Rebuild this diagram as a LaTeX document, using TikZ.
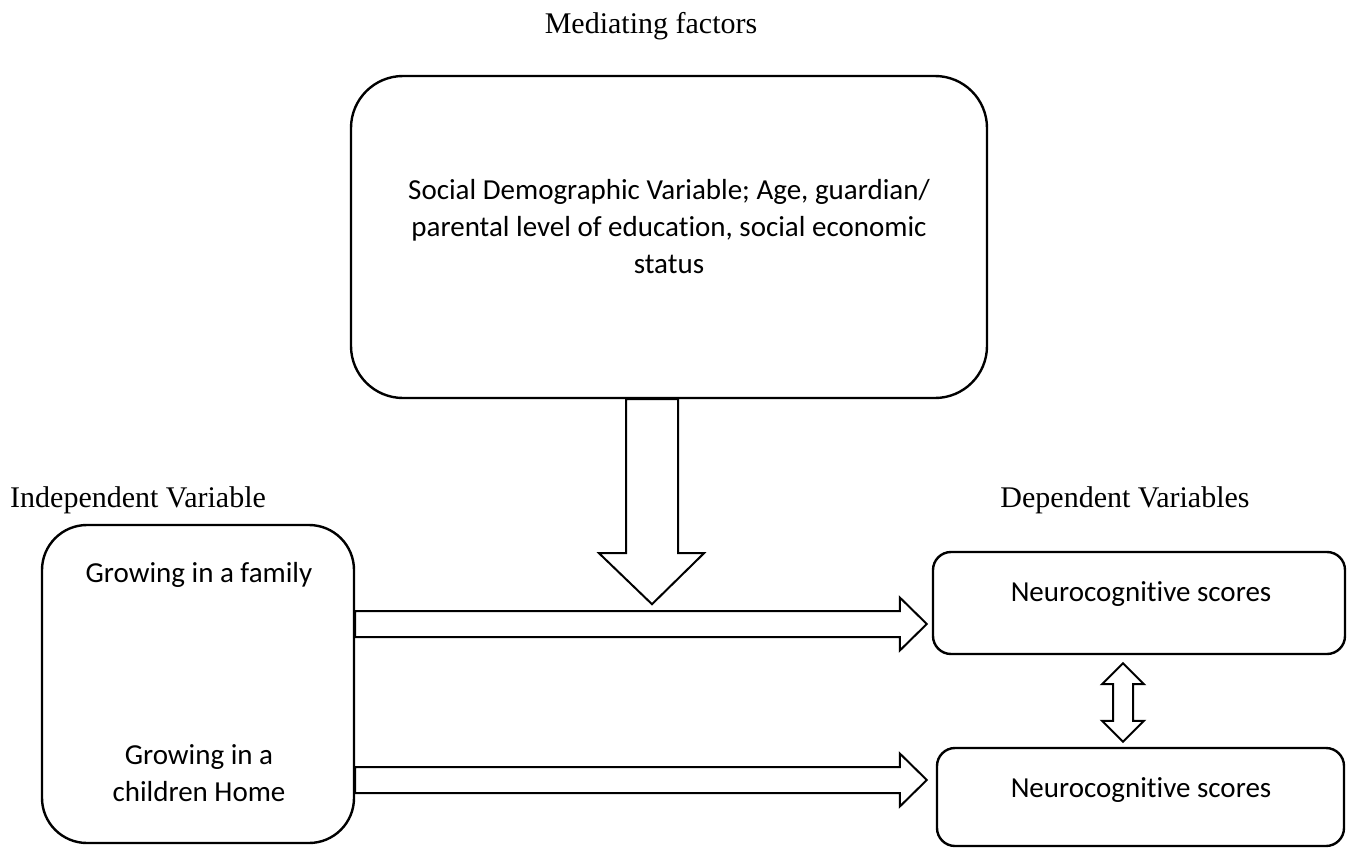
\documentclass[tikz,border=0pt]{standalone}
\usepackage{fontspec}
\setmainfont{Liberation Serif}
\newfontfamily\calfont[Ligatures=NoCommon]{Carlito}
\usetikzlibrary{calc}
\begin{document}
\begin{tikzpicture}[x=1pt,y=-1pt,
  box/.style={draw, line width=2.4pt, inner sep=0pt},
  lbl/.style={font=\calfont\fontsize{29}{37}\selectfont, align=center, inner sep=0pt},
  ttl/.style={font=\fontsize{30}{36}\selectfont, inner sep=0pt},
  blk/.style={draw, line width=2pt, fill=white, line join=miter}]
\useasboundingbox (0,0) rectangle (1352,848);

% boxes
\node[box, rounded corners=52pt, minimum width=636pt, minimum height=322pt] (M) at (669,237) {};
\node[box, rounded corners=45pt, minimum width=312pt, minimum height=318pt] (L) at (198,684) {};
\node[box, rounded corners=18pt, minimum width=412pt, minimum height=102pt] (R1) at (1139,603) {};
\node[box, rounded corners=18pt, minimum width=407pt, minimum height=98pt] (R2) at (1140.5,797) {};

% titles
\node[ttl, anchor=base] (tM) at (651,34) {Mediating factors};
\node[ttl, anchor=base west] (tI) at (10,507) {Independent Variable};
\node[ttl, anchor=base] (tD) at (1125,507) {Dependent Variables};

% box texts
\node[lbl] (Mt) at (669,227) {Social Demographic Variable; Age, guardian/\\parental level of education, social economic\\status};
\node[lbl] (Lf) at (199,575) {Growing in a family};
\node[lbl] (Lh) at (199,773) {Growing in a\\children Home};
\node[lbl] (R1t) at (1141,594) {Neurocognitive scores};
\node[lbl] (R2t) at (1141,790) {Neurocognitive scores};

% connector end points
\coordinate (a1s) at ($(L.east)+(0,-60)$);
\coordinate (a1e) at ($(R1.west |- a1s)+(-5,0)$);
\coordinate (a2s) at ($(L.east)+(0,96)$);
\coordinate (a2e) at ($(R2.west |- a2s)+(-9,0)$);
\coordinate (d0) at ($(M.south)+(-17,0)$);
\coordinate (d1) at ($(d0)+(0,205)$);
\coordinate (b0) at ($(R1.south)+(-16,8)$);
\coordinate (b1) at ($(R2.north)+(-17.5,-5)$);

% horizontal block arrows
\foreach \s/\e in {a1s/a1e, a2s/a2e}{
  \draw[blk] let \p1=(\s), \p2=(\e) in
    (\x1,\y1+13pt) -- (\x2-27pt,\y1+13pt) -- (\x2-27pt,\y1+26.5pt) -- (\x2,\y1)
    -- (\x2-27pt,\y1-26.5pt) -- (\x2-27pt,\y1-13pt) -- (\x1,\y1-13pt) -- cycle;
}
% down block arrow
\draw[blk] let \p1=(d0), \p2=(d1) in
  (\x1-26pt,\y1) -- (\x1-26pt,\y2+51pt) -- (\x1-53pt,\y2+51pt) -- (\x2,\y2)
  -- (\x1+52pt,\y2+51pt) -- (\x1+26pt,\y2+51pt) -- (\x1+26pt,\y1) -- cycle;
% double block arrow
\draw[blk] let \p1=(b0), \p2=(b1) in
  (\x1,\y1) -- (\x1+21pt,\y1-21pt) -- (\x1+10pt,\y1-21pt) -- (\x1+10pt,\y2+21pt)
  -- (\x1+21pt,\y2+21pt) -- (\x2,\y2) -- (\x1-21pt,\y2+21pt) -- (\x1-10pt,\y2+21pt)
  -- (\x1-10pt,\y1-21pt) -- (\x1-21pt,\y1-21pt) -- cycle;
\end{tikzpicture}
\end{document}
